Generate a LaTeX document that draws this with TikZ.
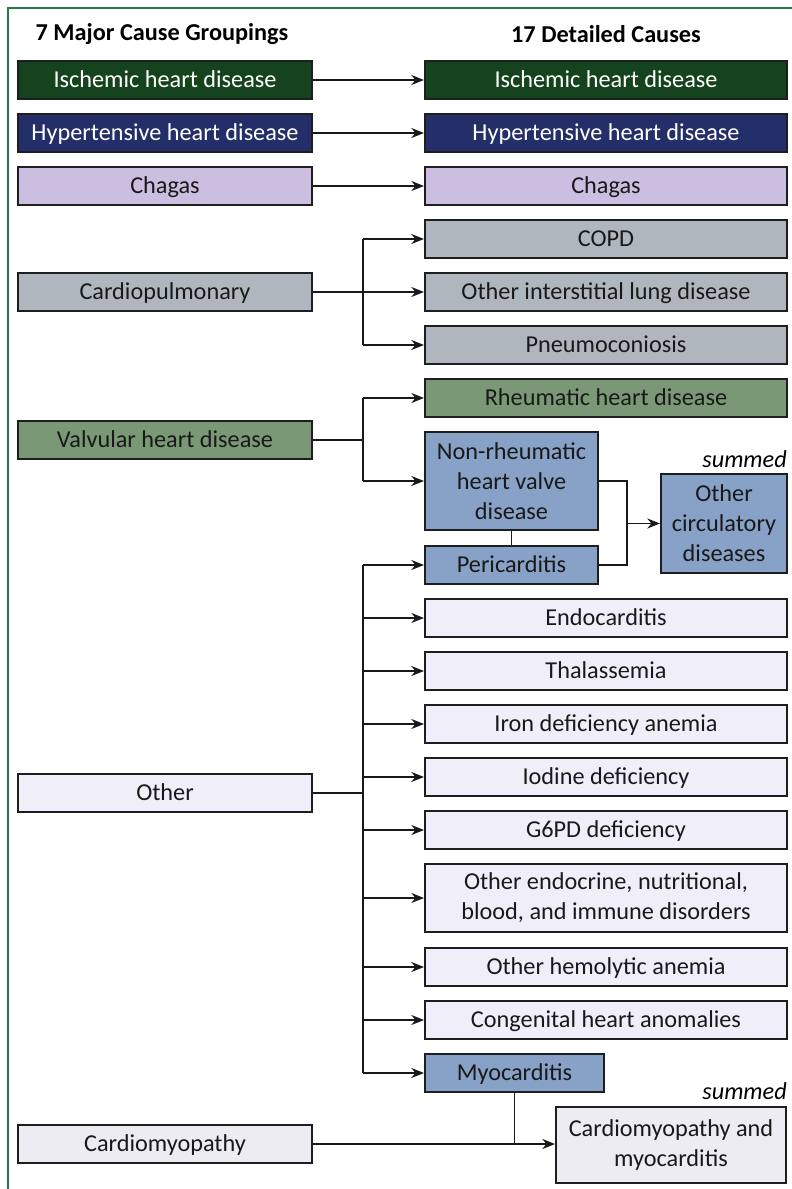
\documentclass[tikz,border=0pt]{standalone}
\usepackage{fontspec}
\setmainfont{Carlito}
\usetikzlibrary{arrows.meta}
\definecolor{ihd}{RGB}{21,67,30}
\definecolor{hhd}{RGB}{36,46,105}
\definecolor{chg}{RGB}{204,190,224}
\definecolor{cpm}{RGB}{176,182,190}
\definecolor{vhd}{RGB}{122,152,118}
\definecolor{blu}{RGB}{135,161,199}
\definecolor{lav}{RGB}{240,238,248}
\definecolor{lgr}{RGB}{236,236,242}
\definecolor{frm}{RGB}{40,120,70}
\definecolor{edge}{RGB}{30,30,30}
\begin{document}
\begin{tikzpicture}[x=0.75pt,y=-0.75pt,
  font=\fontsize{18.2}{22.5}\selectfont,
  box/.style={draw=edge,line width=1.5pt,rectangle,inner sep=0pt,align=center,text=black!90},
  oneline/.style={text height=14pt,text depth=3.5pt},
  lbox/.style={box,oneline,minimum width=220.5pt,minimum height=28.5pt},
  rbase/.style={box,minimum width=271.5pt},
  rbox/.style={rbase,oneline,minimum height=28.5pt},
  wtxt/.style={text=white},
  conn/.style={draw=black!90,line width=1.4pt},
  arr/.style={conn,-{Stealth[length=9.5pt,width=7.5pt]}},
  hdr/.style={font=\fontsize{18.2}{22.5}\selectfont\bfseries},
  sumlab/.style={font=\fontsize{18.2}{22.5}\selectfont\itshape,anchor=east,inner sep=0pt}]
\useasboundingbox (0,0) rectangle (792,1189);
\draw[frm,line width=1.1pt] (8,1189) -- (8,8) -- (792,8);
% headers
\node[hdr] (h1) at (162,34) {7 Major Cause Groupings};
\node[hdr] (h2) at (606,34) {17 Detailed Causes};
% left boxes
\node[lbox,fill=ihd,wtxt] (ihdL) at (165,80) {Ischemic heart disease};
\node[lbox,fill=hhd,wtxt] (hhdL) at (165,133) {Hypertensive heart disease};
\node[lbox,fill=chg] (chgL) at (165,186) {Chagas};
\node[lbox,fill=cpm] (cpL) at (165,292) {Cardiopulmonary};
\node[lbox,fill=vhd] (vhdL) at (165,440) {Valvular heart disease};
\node[lbox,fill=lav] (othL) at (165,793) {Other};
\node[lbox,fill=lgr] (cmL) at (165,1144) {Cardiomyopathy};
% right boxes
\node[rbox,fill=ihd,wtxt] (ihdR) at (606,80) {Ischemic heart disease};
\node[rbox,fill=hhd,wtxt] (hhdR) at (606,133) {Hypertensive heart disease};
\node[rbox,fill=chg] (chgR) at (606,186) {Chagas};
\node[rbox,fill=cpm] (copd) at (606,239) {COPD};
\node[rbox,fill=cpm] (oild) at (606,292) {Other interstitial lung disease};
\node[rbox,fill=cpm] (pneu) at (606,345) {Pneumoconiosis};
\node[rbox,fill=vhd] (rhd) at (606,398) {Rheumatic heart disease};
\node[box,fill=blu,minimum width=129.75pt,minimum height=73.5pt] (nrhd) at (511.5,481) {Non-rheumatic\\heart valve\\disease};
\node[box,oneline,fill=blu,minimum width=129.75pt,minimum height=28.5pt] (peri) at (511.5,565) {Pericarditis};
\node[box,fill=blu,minimum width=94.5pt,minimum height=74.25pt] (ocd) at (724,523.5) {Other\\circulatory\\diseases};
\node[rbox,fill=lav] (endo) at (606,618) {Endocarditis};
\node[rbox,fill=lav] (thal) at (606,671) {Thalassemia};
\node[rbox,fill=lav] (iron) at (606,724) {Iron deficiency anemia};
\node[rbox,fill=lav] (iod) at (606,777) {Iodine deficiency};
\node[rbox,fill=lav] (g6pd) at (606,830) {G6PD deficiency};
\node[rbase,fill=lav,minimum height=51pt] (oend) at (606,898) {Other endocrine, nutritional,\\blood, and immune disorders};
\node[rbox,fill=lav] (ohem) at (606,967) {Other hemolytic anemia};
\node[rbox,fill=lav] (cong) at (606,1020) {Congenital heart anomalies};
\node[box,oneline,fill=blu,minimum width=134.25pt,minimum height=28.5pt] (myo) at (514.5,1073) {Myocarditis};
\node[box,fill=lgr,minimum width=172.5pt,minimum height=57pt] (cmm) at (671,1145) {Cardiomyopathy and\\myocarditis};
% summed labels
\node[sumlab] (s1) at (787,459) {summed};
\node[sumlab] (s2) at (787,1091) {summed};
% simple connectors
\draw[arr] (ihdL.east) -- (ihdR.west);
\draw[arr] (hhdL.east) -- (hhdR.west);
\draw[arr] (chgL.east) -- (chgR.west);
% cardiopulmonary
\coordinate (cpj) at (363,292);
\draw[conn] (cpL.east) -- (cpj);
\draw[conn] (cpj |- copd.west) -- (cpj |- pneu.west);
\draw[arr] (cpj |- copd.west) -- (copd.west);
\draw[arr] (cpj) -- (oild.west);
\draw[arr] (cpj |- pneu.west) -- (pneu.west);
% valvular
\coordinate (vj) at (363,440);
\draw[conn] (vhdL.east) -- (vj);
\draw[conn] (vj |- rhd.west) -- (vj |- nrhd.west);
\draw[arr] (vj |- rhd.west) -- (rhd.west);
\draw[arr] (vj |- nrhd.west) -- (nrhd.west);
% other circulatory
\draw[conn] (nrhd.south) -- (peri.north);
\coordinate (ocj) at (627,523.5);
\draw[conn] (nrhd.east) -| (ocj);
\draw[conn] (peri.east) -| (ocj);
\draw[arr] (ocj) -- (ocd.west);
% other
\coordinate (oj) at (363,793);
\draw[conn] (othL.east) -- (oj);
\draw[conn] (oj |- peri.west) -- (oj |- myo.west);
\foreach \n in {peri,endo,thal,iron,iod,g6pd,oend,ohem,cong,myo}
  \draw[arr] (oj |- \n.west) -- (\n.west);
% cardiomyopathy
\draw[conn] (myo.south) -- (myo.south |- cmL.east);
\draw[arr] (cmL.east) -- (cmm.west |- cmL.east);
\end{tikzpicture}
\end{document}
